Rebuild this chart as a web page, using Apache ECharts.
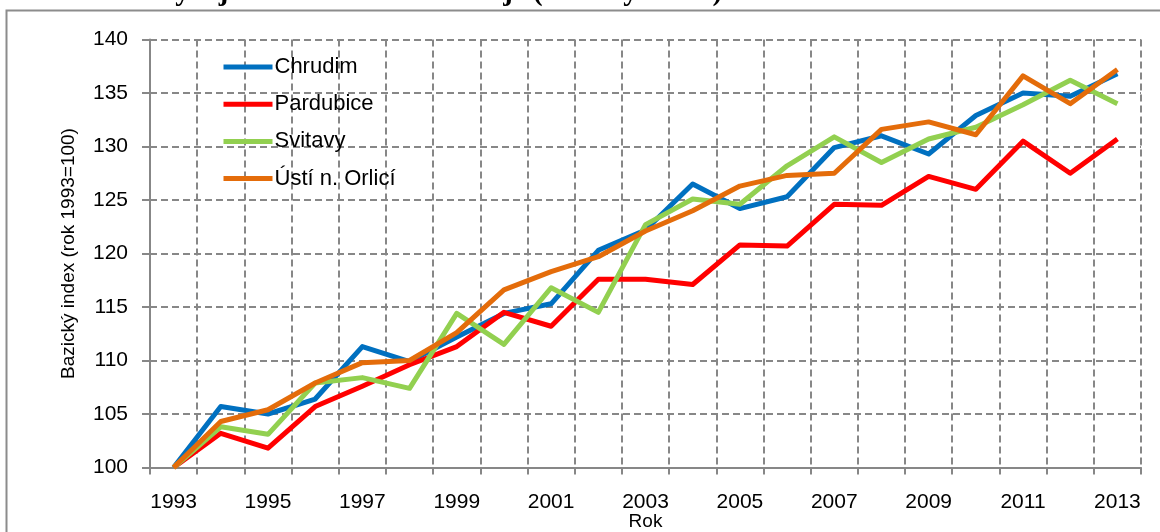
<!DOCTYPE html>
<html>
<head>
<meta charset="utf-8">
<script src="https://cdn.jsdelivr.net/npm/echarts@6/dist/echarts.min.js"></script>
<style>
html,body{margin:0;padding:0;background:#fff;}
#chart{width:1160px;height:532px;}
</style>
</head>
<body>
<div id="chart"></div>
<script>
const years = ['1993','1994','1995','1996','1997','1998','1999','2000','2001','2002','2003','2004','2005','2006','2007','2008','2009','2010','2011','2012','2013'];
const chrudim   = [100, 105.7, 105.0, 106.4, 111.3, 109.9, 112.2, 114.4, 115.3, 120.3, 122.2, 126.5, 124.2, 125.3, 129.9, 131.0, 129.3, 132.9, 135.0, 134.7, 136.8];
const pardubice = [100, 103.2, 101.8, 105.7, 107.6, 109.6, 111.3, 114.5, 113.2, 117.6, 117.6, 117.1, 120.8, 120.7, 124.6, 124.5, 127.2, 126.0, 130.5, 127.5, 130.7];
const svitavy   = [100, 103.8, 103.1, 107.9, 108.4, 107.4, 114.4, 111.5, 116.8, 114.5, 122.7, 125.1, 124.6, 128.2, 130.9, 128.5, 130.7, 131.8, 133.9, 136.2, 134.0];
const usti      = [100, 104.3, 105.4, 107.9, 109.8, 110.0, 112.6, 116.6, 118.3, 119.7, 122.1, 124.0, 126.3, 127.3, 127.5, 131.6, 132.3, 131.1, 136.6, 134.0, 137.2];
const seriesNames = ['Chrudim', 'Pardubice', 'Svitavy', 'Ústí n. Orlicí'];
const seriesData = [chrudim, pardubice, svitavy, usti];
const seriesColors = ['#0070C0', '#FF0000', '#92D050', '#E46C0A'];
const yTitle = 'Bazický index (rok 1993=100)';
const xTitle = 'Rok';
const chartTitle = 'Porovnání vývoje mezd v okresech kraje (bazický index)';

const gridColor = '#878787';
const chart = echarts.init(document.getElementById('chart'), null, {renderer: 'canvas'});
chart.setOption({
  animation: false,
  textStyle: {fontFamily: 'Liberation Sans'},
  grid: {left: 150, right: 19, top: 39.5, bottom: 64.5, containLabel: false, outerBoundsMode: 'none'},
  graphic: [
    {type: 'rect', shape: {x: 6.5, y: 10.5, width: 1200, height: 600},
     style: {fill: 'none', stroke: '#8c8c8c', lineWidth: 2}, silent: true},
    {type: 'text', x: 25, y: -7,
     style: {text: chartTitle, font: 'bold 29px "Liberation Serif"', fill: '#000', verticalAlign: 'middle', align: 'left'}}
  ],
  legend: {
    orient: 'vertical', left: 221, top: 56, padding: 0,
    itemWidth: 49, itemHeight: 14, itemGap: 15.2,
    data: seriesNames,
    lineStyle: {width: 5},
    itemStyle: {opacity: 0},
    textStyle: {fontSize: 22, color: '#000', fontFamily: 'Liberation Sans', padding: [0, 0, 0, -3]}
  },
  xAxis: {
    type: 'category', data: years, boundaryGap: true,
    name: xTitle, nameLocation: 'middle', nameGap: 45, nameMoveOverlap: false,
    nameTextStyle: {fontSize: 19, color: '#000'},
    axisLine: {show: true, lineStyle: {color: gridColor, width: 2}},
    axisTick: {show: true, interval: 0, length: 7, lineStyle: {color: gridColor, width: 2}},
    axisLabel: {interval: 1, fontSize: 21, color: '#000', margin: 24},
    splitLine: {show: true, interval: 0, lineStyle: {color: gridColor, width: 2, type: [7, 4]}}
  },
  yAxis: {
    type: 'value', min: 100, max: 140, interval: 5,
    name: yTitle, nameLocation: 'middle', nameGap: 72, nameRotate: 90, nameMoveOverlap: false,
    nameTextStyle: {fontSize: 19, color: '#000'},
    axisLine: {show: true, lineStyle: {color: gridColor, width: 2}},
    axisTick: {show: true, length: 8, lineStyle: {color: gridColor, width: 2}},
    axisLabel: {fontSize: 21, color: '#000', margin: 22},
    splitLine: {show: true, lineStyle: {color: gridColor, width: 2, type: [7, 4]}}
  },
  series: seriesNames.map((n, i) => ({
    name: n, type: 'line', data: seriesData[i], symbol: 'none',
    color: seriesColors[i],
    lineStyle: {color: seriesColors[i], width: 5, join: 'round'},
    z: 2 + i
  }))
});
</script>
</body>
</html>
